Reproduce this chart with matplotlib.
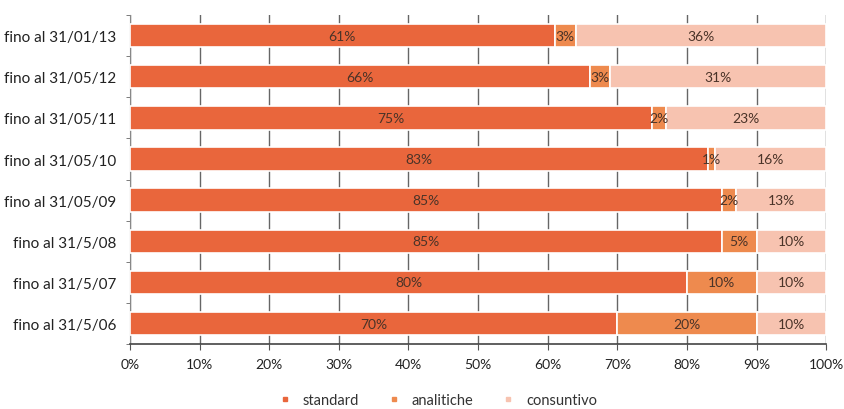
import matplotlib
matplotlib.use("Agg")
import matplotlib.pyplot as plt
from matplotlib.lines import Line2D

plt.rcParams['font.family'] = ['Lato', 'DejaVu Sans']

categories = ["fino al 31/01/13", "fino al 31/05/12", "fino al 31/05/11",
              "fino al 31/05/10", "fino al 31/05/09", "fino al 31/5/08",
              "fino al 31/5/07", "fino al 31/5/06"]
standard = [61, 66, 75, 83, 85, 85, 80, 70]
analitiche = [3, 3, 2, 1, 2, 5, 10, 20]
consuntivo = [36, 31, 23, 16, 13, 10, 10, 10]
series_names = ["standard", "analitiche", "consuntivo"]
colors = ["#E9663C", "#EE8A4E", "#F7C3B0"]
text_color = "#4a3328"

fig = plt.figure(figsize=(8.44, 4.10), dpi=100)
ax = fig.add_axes([0.154, 0.158, 0.825, 0.803])

ypos = list(range(len(categories)))
left = [0] * len(categories)
for vals, col in zip([standard, analitiche, consuntivo], colors):
    ax.barh(ypos, vals, left=left, height=0.57, color=col,
            edgecolor="white", linewidth=1.2, zorder=3)
    for y, v, l in zip(ypos, vals, left):
        ax.text(l + v / 2, y, f"{v}%", ha="center", va="center",
                fontsize=10, color=text_color, zorder=4)
    left = [a + b for a, b in zip(left, vals)]

ax.set_ylim(len(categories) - 0.5, -0.5)
ax.set_xlim(0, 100)
ax.set_yticks(ypos)
ax.set_yticklabels(categories, fontsize=11, color="#222222")
ax.set_yticks([i + 0.5 for i in range(-1, len(categories))], minor=True)
ax.tick_params(axis="y", which="major", length=0, pad=10)
ax.tick_params(axis="y", which="minor", length=3, color="#666666")

xt = list(range(0, 101, 10))
ax.set_xticks(xt)
ax.set_xticklabels([f"{t}%" for t in xt], fontsize=10, color="#222222")
ax.tick_params(axis="x", length=4, color="#555555", pad=6)
ax.grid(axis="x", color="#666666", linewidth=1.0, zorder=0)

for s in ["top", "right"]:
    ax.spines[s].set_visible(False)
ax.spines["left"].set_color("#888888")
ax.spines["bottom"].set_color("#444444")
ax.spines["bottom"].set_linewidth(1.2)

handles = [Line2D([], [], marker="s", linestyle="none", markersize=3.5,
                  color=c) for c in colors]
fig.legend(handles, series_names, loc="center", bbox_to_anchor=(0.514, 0.022),
           ncol=3, frameon=False, fontsize=10.5, handletextpad=0.2,
           columnspacing=1.4, labelcolor="#333333")

fig.savefig("out.png", dpi=100)
